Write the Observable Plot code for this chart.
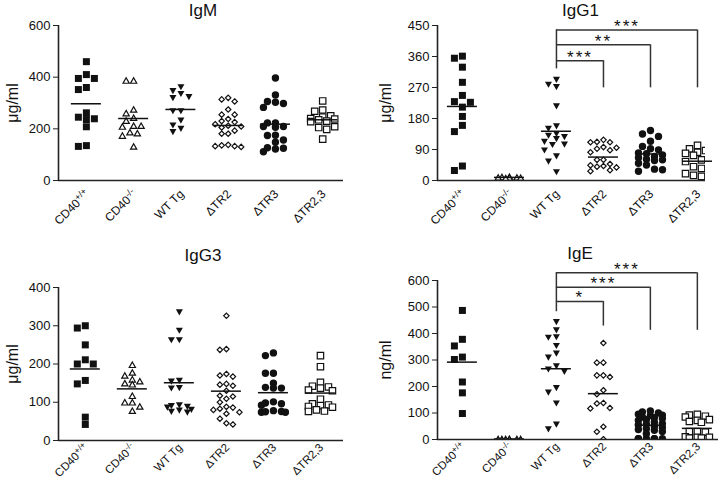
<!DOCTYPE html>
<html><head><meta charset="utf-8">
<script src="https://cdn.jsdelivr.net/npm/d3@7"></script>
<script src="https://cdn.jsdelivr.net/npm/@observablehq/plot@0.6"></script>
<style>
body{margin:0;background:#fff;}
#grid{display:grid;grid-template-columns:360px 360px;grid-template-rows:240px 242px;width:720px;height:482px;overflow:hidden;}
#grid svg{display:block;}
</style></head><body><div id="grid"></div>
<script>
// ---- categories / labels ----
const groups = ["CD40+/+", "CD40-/-", "WT Tg", "ΔTR2", "ΔTR3", "ΔTR2,3"];
const groupIndex = [0, 1, 2, 3, 4, 5];

// ---- IgM (µg/ml) ----
const igmValues = [
  [460, 410, 395, 395, 360, 352, 262, 236, 239, 245, 208, 132, 135],
  [387, 387, 261, 275, 243, 232, 212, 209, 212, 183, 174, 187, 132],
  [361, 346, 335, 323, 319, 268, 268, 232, 213, 200, 187],
  [320, 314, 306, 275, 255, 255, 238, 230, 226, 218, 212, 209, 205, 193, 181, 181, 138, 133, 130, 136, 133],
  [397, 331, 306, 298, 303, 283, 223, 223, 209, 206, 209, 175, 174, 157, 148, 125, 122, 127, 111],
  [308, 273, 268, 250, 245, 240, 238, 235, 230, 228, 205, 198, 208, 160]
];
const igmMeans = [297, 240, 275, 213, 218, 235];
const igmTicks = [0, 200, 400, 600];

// ---- IgG1 (µg/ml) ----
const igg1Values = [
  [361, 355, 329, 285, 247, 227, 229, 213, 186, 160, 142, 29, 42],
  [8, 10, 9, 7, 11, 9, 8],
  [292, 278, 271, 215, 150, 157, 135, 130, 126, 120, 112, 104, 103, 87, 70, 55, 24],
  [118, 111, 111, 112, 97, 95, 92, 88, 82, 60, 60, 48, 44, 42, 40, 38, 30, 27],
  [145, 135, 128, 114, 99, 92, 89, 80, 78, 74, 70, 66, 62, 60, 58, 50, 45, 33, 31, 27],
  [102, 92, 87, 82, 79, 73, 75, 60, 55, 53, 40, 35, 20, 15, 12]
];
const igg1Means = [215, 9, 143, 68, 77, 56];
const igg1Ticks = [0, 90, 180, 270, 360, 450];
const igg1BracketTargets = [3, 4, 5];
const igg1BracketLevels = [348, 394, 437];
const igg1BracketEnds = [269, 269, 269];
const igg1BracketStart = 324;
const igg1Stars = ["***", "**", "***"];

// ---- IgG3 (µg/ml) ----
const igg3Values = [
  [300, 294, 250, 211, 200, 200, 157, 148, 61, 42],
  [198, 178, 170, 160, 155, 150, 147, 117, 100, 100, 89, 78],
  [335, 287, 262, 262, 156, 154, 137, 136, 92, 90, 88, 86, 78, 75, 73, 80],
  [326, 239, 237, 174, 170, 167, 148, 146, 143, 130, 117, 115, 109, 100, 88, 86, 83, 80, 74, 70, 57, 45, 42],
  [229, 222, 176, 176, 150, 139, 137, 137, 101, 98, 96, 92, 78, 75, 74, 74, 76],
  [222, 193, 152, 142, 140, 137, 132, 130, 108, 96, 93, 91, 89, 87, 80, 77, 76]
];
const igg3Means = [187, 135, 151, 129, 125, 124];
const igg3Ticks = [0, 100, 200, 300, 400];

// ---- IgE (ng/ml) ----
const igeValues = [
  [487, 378, 353, 311, 302, 217, 176, 98],
  [2, 2, 2, 2, 2, 2, 2],
  [443, 412, 386, 384, 353, 324, 309, 276, 264, 255, 194, 177, 136, 56, 38],
  [364, 290, 290, 242, 236, 242, 186, 171, 138, 136, 117, 119, 48, 29, 1],
  [108, 104, 100, 95, 92, 90, 85, 82, 79, 75, 72, 65, 60, 58, 55, 50, 45, 41, 38, 35, 30, 22, 3, 3, 3, 3, 3, 3],
  [95, 92, 88, 85, 75, 72, 68, 65, 30, 30, 28, 10, 8, 8, 5, 5]
];
const igeMeans = [292, 2, 267, 173, 54, 42];
const igeTicks = [0, 100, 200, 300, 400, 500, 600];
const igeBracketTargets = [3, 4, 5];
const igeBracketLevels = [521, 575, 629];
const igeBracketEnds = [428, 412, 412];
const igeBracketStart = 482;
const igeStars = ["*", "***", "***"];

// ---- symbols ----
const rad = s => Math.sqrt(s / Math.PI);
const symSquare = {draw(c, s) { const r = rad(s); c.rect(-r, -r, 2 * r, 2 * r); }};
const symTriUp = {draw(c, s) { const r = rad(s), h = r * 0.88; c.moveTo(0, -h); c.lineTo(r, h); c.lineTo(-r, h); c.closePath(); }};
const symTriDown = {draw(c, s) { const r = rad(s), h = r * 0.88; c.moveTo(-r, -h); c.lineTo(r, -h); c.lineTo(0, h); c.closePath(); }};
const symDiamond = {draw(c, s) { const r = rad(s); c.moveTo(0, -r); c.lineTo(r, 0); c.lineTo(0, r); c.lineTo(-r, 0); c.closePath(); }};
const symCircle = {draw(c, s) { const r = rad(s); c.moveTo(r, 0); c.arc(0, 0, r, 0, 2 * Math.PI); }};

const styles = [
  {symbol: symSquare, r: 3.5, fill: "#111", stroke: "none", sw: 0, sep: 8, dmin: 7},
  {symbol: symTriUp, r: 3.1, fill: "#fff", stroke: "#111", sw: 1.2, sep: 7.5, dmin: 6.5},
  {symbol: symTriDown, r: 3.5, fill: "#111", stroke: "none", sw: 0, sep: 8, dmin: 6.5},
  {symbol: symDiamond, r: 2.7, fill: "#fff", stroke: "#111", sw: 1.2, sep: 6.5, dmin: 6},
  {symbol: symCircle, r: 3.7, fill: "#111", stroke: "none", sw: 0, sep: 8, dmin: 7},
  {symbol: symSquare, r: 3.2, fill: "#fff", stroke: "#111", sw: 1.2, sep: 8, dmin: 7.5}
];

const W = 360;
const maxSpread = 13;
const meanHalfPx = 15;
const FONT = '"Liberation Sans", Arial, Helvetica, sans-serif';

function buildPanel(cfg) {
  const {values, means, yMax, yTicks, xDomain, mt, mb, ml, mr, h} = cfg;
  const pxPerUnit = (W - ml - mr) / (xDomain[1] - xDomain[0]);
  const plotH = h - mt - mb;
  const yPx = v => v / yMax * plotH;
  const marks = [];
  values.forEach((vals, g) => {
    const st = styles[g];
    const half = st.sep / 2;
    const kMax = Math.floor(maxSpread / half);
    const placed = [];
    const pts = [];
    const order = d3.range(vals.length).sort((a, b) => vals[b] - vals[a]);
    for (const i of order) {
      const py = yPx(vals[i]);
      let best = 0, bestBad = Infinity;
      for (let k = 0; k <= 2 * kMax; k++) {
        const m = Math.ceil(k / 2) * (k % 2 ? -1 : 1);
        const ox = m * half;
        let bad = 0;
        for (const p of placed) {
          const dx = Math.abs(p.ox - ox), dy = Math.abs(p.py - py);
          if (dx < st.sep - 0.01 && dy < st.dmin) bad += (st.sep - dx) * (st.dmin - dy);
        }
        if (bad === 0) { best = ox; bestBad = 0; break; }
        if (bad < bestBad) { bestBad = bad; best = ox; }
      }
      placed.push({ox: best, py});
      pts.push({x: g + best / pxPerUnit, y: vals[i]});
    }
    marks.push(Plot.dot(pts, {x: "x", y: "y", symbol: st.symbol, r: st.r, fill: st.fill,
      stroke: st.stroke, strokeWidth: st.sw, clip: true}));
  });
  const mh = meanHalfPx / pxPerUnit;
  marks.push(Plot.ruleY(groupIndex, {y: i => means[i], x1: i => i - mh, x2: i => i + mh, stroke: "#111", strokeWidth: 1.5}));
  marks.push(Plot.ruleY([0], {stroke: "#222", strokeWidth: 1.6}));
  marks.push(Plot.ruleX([xDomain[0]], {stroke: "#222", strokeWidth: 1.6}));
  marks.push(Plot.axisY(yTicks, {tickSize: 5, tickPadding: 3, fontSize: 13, label: null, stroke: "#222"}));
  marks.push(Plot.text(groupIndex, {x: i => i, frameAnchor: "bottom", text: i => groups[i], rotate: -45,
    textAnchor: "end", lineAnchor: "middle", dx: 1, dy: cfg.labelDy, fontSize: cfg.labelSize}));
  marks.push(Plot.text([cfg.title], {frameAnchor: "top", dy: cfg.titleDy, dx: cfg.titleDx, fontSize: 17,
    textAnchor: "middle", lineAnchor: "middle"}));
  marks.push(Plot.text([cfg.yLabel], {frameAnchor: "left", rotate: -90, dx: cfg.yLabelDx, fontSize: 16,
    textAnchor: "middle", lineAnchor: "middle"}));
  if (cfg.br) {
    const b = cfg.br;
    const idx = d3.range(b.targets.length);
    marks.push(Plot.ruleY(idx, {y: i => b.levels[i], x1: 2, x2: i => b.targets[i], stroke: "#333", strokeWidth: 1.5}));
    marks.push(Plot.ruleX(idx, {x: i => b.targets[i], y1: i => b.levels[i], y2: i => b.ends[i], stroke: "#333", strokeWidth: 1.5}));
    marks.push(Plot.ruleX([2], {y1: b.start, y2: d3.max(b.levels), stroke: "#333", strokeWidth: 1.5}));
    marks.push(Plot.text(idx, {x: i => (2 + b.targets[i]) / 2, y: i => b.levels[i], text: i => b.stars[i],
      lineAnchor: "bottom", dy: 2, fontSize: 17, textAnchor: "middle"}));
  }
  const svg = Plot.plot({
    width: W, height: h, marginTop: mt, marginBottom: mb, marginLeft: ml, marginRight: mr,
    x: {type: "linear", domain: xDomain, axis: null},
    y: {domain: [0, yMax]},
    style: {fontFamily: FONT, color: "#111", background: "#fff", overflow: "visible"},
    marks
  });
  // superscripts in genotype labels, spacing for significance stars
  svg.querySelectorAll("text").forEach(t => {
    const s = t.textContent;
    const m = /^CD40([+-]\/[+-])$/.exec(s);
    if (m) {
      t.textContent = "CD40";
      const ts = document.createElementNS("http://www.w3.org/2000/svg", "tspan");
      ts.setAttribute("dy", "-0.45em");
      ts.setAttribute("font-size", "0.75em");
      ts.textContent = m[1];
      t.appendChild(ts);
    } else if (/^\*+$/.test(s)) {
      t.style.letterSpacing = "2px";
    }
  });
  return svg;
}

const panels = [
  {values: igmValues, means: igmMeans, yMax: 600, yTicks: igmTicks, xDomain: [-0.59, 5.44],
   h: 240, mt: 25, mb: 60, ml: 58, mr: 17, title: "IgM", titleDx: 2, titleDy: -15, yLabel: "μg/ml", yLabelDx: -46,
   labelDy: 11.5, labelSize: 12},
  {values: igg1Values, means: igg1Means, yMax: 450, yTicks: igg1Ticks, xDomain: [-0.53, 5.17],
   h: 240, mt: 25, mb: 60, ml: 77, mr: 15, title: "IgG1", titleDx: 9, titleDy: -15, yLabel: "μg/ml", yLabelDx: -52,
   labelDy: 11.5, labelSize: 12,
   br: {targets: igg1BracketTargets, levels: igg1BracketLevels, ends: igg1BracketEnds, start: igg1BracketStart, stars: igg1Stars}},
  {values: igg3Values, means: igg3Means, yMax: 400, yTicks: igg3Ticks, xDomain: [-0.57, 5.49],
   h: 242, mt: 47, mb: 42, ml: 58, mr: 17, title: "IgG3", titleDx: 2, titleDy: -32, yLabel: "μg/ml", yLabelDx: -46,
   labelDy: 5, labelSize: 11.5},
  {values: igeValues, means: igeMeans, yMax: 600, yTicks: igeTicks, xDomain: [-0.53, 5.45],
   h: 242, mt: 40, mb: 43, ml: 77, mr: 2, title: "IgE", titleDx: 2, titleDy: -27, yLabel: "ng/ml", yLabelDx: -52,
   labelDy: 5, labelSize: 11.5,
   br: {targets: igeBracketTargets, levels: igeBracketLevels, ends: igeBracketEnds, start: igeBracketStart, stars: igeStars}}
];

const grid = document.getElementById("grid");
for (const p of panels) grid.appendChild(buildPanel(p));
</script>
</body></html>
